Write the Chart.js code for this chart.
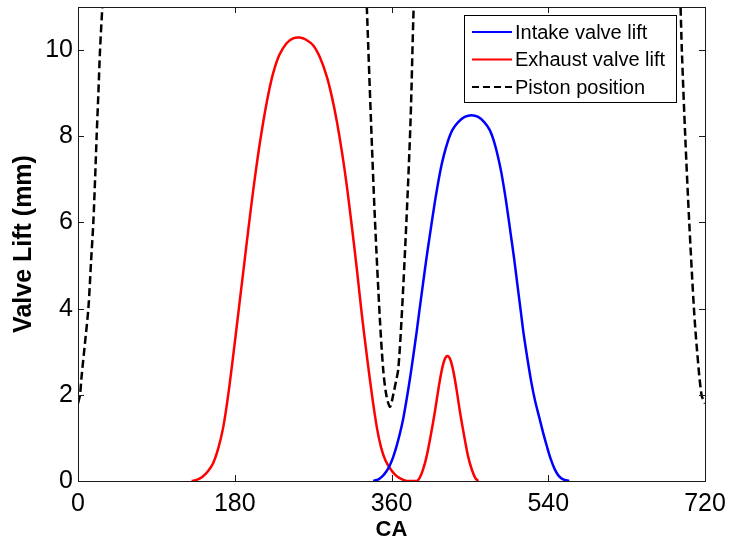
<!DOCTYPE html>
<html>
<head>
<meta charset="utf-8">
<script src="https://cdn.jsdelivr.net/npm/chart.js@4.4.0/dist/chart.umd.min.js"></script>
<style>
  body { margin: 0; background: #fff; }
  #wrap { width: 729px; height: 543px; }
</style>
</head>
<body>
<div id="wrap"><canvas id="chart"></canvas></div>
<script>
// crank angle (deg) vs lift (mm)
const intakeCA   = [339, 345, 350, 354, 358, 362, 366, 370, 373.5, 377, 381, 385, 388.8, 392, 396, 400, 404, 410, 415.6, 420, 425, 430, 436.6, 444, 452,
                    459.5, 466.5, 472.7, 477.4, 482, 486.2, 491.5, 497.1, 500.9, 504.6, 508.4, 511.5, 516, 520.5, 525, 530, 534, 538.5, 543, 547.5, 552, 557, 564];
const intakeLift = [0, 0.04, 0.12, 0.22, 0.36, 0.56, 0.82, 1.13, 1.45, 1.85, 2.35, 2.9, 3.45, 3.95, 4.55, 5.15, 5.7, 6.5, 7.15, 7.55, 7.9, 8.15, 8.33, 8.45, 8.49,
                    8.45, 8.33, 8.15, 7.9, 7.55, 7.15, 6.5, 5.7, 5.15, 4.55, 3.95, 3.45, 2.85, 2.3, 1.85, 1.45, 1.13, 0.8, 0.5, 0.27, 0.12, 0.04, 0];

const exhaustCA   = [130.5, 137, 143, 149, 155.3, 161, 166.8, 172.5, 178.3, 184, 189.8, 195.5, 201.3, 207, 212.7, 218.5, 224.2, 231, 239.5, 247, 254.4,
                     262, 270.4, 278, 285.8, 291.5, 297.2, 303, 308.7, 314.5, 320.2, 326, 331.6, 337, 343.1, 348, 353, 358.4, 364, 370, 377.5,
                     388.8, 392, 396, 400.2, 405, 409.9, 414, 417.5, 421, 424.3, 427.5, 431, 434.5, 438.5, 443.4, 448.1, 452.5, 456.5, 459.7];
const exhaustLift = [0, 0.03, 0.1, 0.22, 0.42, 0.75, 1.25, 2.0, 2.92, 3.88, 4.86, 5.82, 6.76, 7.6, 8.33, 8.97, 9.47, 9.88, 10.16, 10.27, 10.29,
                     10.24, 10.1, 9.82, 9.38, 8.92, 8.35, 7.65, 6.85, 5.9, 4.92, 3.85, 2.92, 2.08, 1.25, 0.78, 0.48, 0.29, 0.15, 0.06, 0,
                     0, 0.06, 0.25, 0.56, 1.05, 1.62, 2.15, 2.55, 2.82, 2.9, 2.82, 2.55, 2.15, 1.62, 1.05, 0.56, 0.25, 0.06, 0];

const pistonCA  = [0, 2.3, 4, 8, 11.9, 15, 17.6, 19.6, 21.4, 23.4, 25.3, 27.9, 30, 33, 180, 327, 330, 332.2, 336.4, 341, 346.7, 350.5, 354, 358.2, 362, 365, 367.7, 371.5, 377.2, 381.9, 385, 388, 392, 540, 685, 689, 691.9, 693.4, 697.3, 701.9, 707.3, 711, 716, 720];
const pistonPos = [1.8, 2.0, 2.4, 3.2, 4, 5.1, 6, 7, 8, 9, 10, 11, 11.9, 13.5, 60, 13.5, 11.9, 10.7, 8.38, 6.06, 3.74, 2.58, 2.0, 1.72, 2.0, 2.3, 2.58, 3.74, 6.06, 8.38, 10.7, 12.5, 14.5, 60, 14, 12.5, 11, 10, 8, 6, 4, 3.0, 2.0, 1.8];

const xTicks = [0, 180, 360, 540, 720];
const yTicks = [0, 2, 4, 6, 8, 10];

const FONT = 'Arial, "Liberation Sans", Helvetica, sans-serif';

function pts(xs, ys) {
  return xs.map((x, i) => ({ x: x, y: ys[i] }));
}

// matlab style box with inward ticks on all sides + legend inside the axes
const axesBox = {
  id: 'axesBox',
  afterDraw(chart) {
    const { ctx, chartArea: a, scales: { x, y } } = chart;
    const len = 6;
    ctx.save();
    ctx.strokeStyle = '#1a1a1a';
    ctx.lineWidth = 1;
    ctx.strokeRect(Math.round(a.left) + 0.5, Math.round(a.top) + 0.5,
                   Math.round(a.right - a.left), Math.round(a.bottom - a.top));
    ctx.beginPath();
    xTicks.forEach(v => {
      const px = Math.round(x.getPixelForValue(v)) + 0.5;
      ctx.moveTo(px, a.bottom); ctx.lineTo(px, a.bottom - len);
      ctx.moveTo(px, a.top); ctx.lineTo(px, a.top + len);
    });
    yTicks.forEach(v => {
      const py = Math.round(y.getPixelForValue(v)) + 0.5;
      ctx.moveTo(a.left, py); ctx.lineTo(a.left + len, py);
      ctx.moveTo(a.right, py); ctx.lineTo(a.right - len, py);
    });
    ctx.stroke();

    // legend
    const bx = 464, by = 15, bw = 212, bh = 87;
    ctx.fillStyle = '#fff';
    ctx.fillRect(bx, by, bw, bh);
    ctx.strokeStyle = '#000';
    ctx.strokeRect(bx + 0.5, by + 0.5, bw, bh);
    ctx.font = '20px ' + FONT;
    ctx.textBaseline = 'middle';
    ctx.fillStyle = '#000';
    chart.data.datasets.forEach((ds, i) => {
      const ry = 32 + i * 27.5;
      ctx.strokeStyle = ds.borderColor;
      ctx.lineWidth = 2;
      ctx.setLineDash(ds.borderDash ? [7, 4] : []);
      ctx.beginPath();
      ctx.moveTo(472, ry); ctx.lineTo(512, ry);
      ctx.stroke();
      ctx.setLineDash([]);
      ctx.fillText(ds.label, 515, ry + 1);
    });
    ctx.restore();
  }
};

const ctx = document.getElementById('chart').getContext('2d');
new Chart(ctx, {
  type: 'line',
  data: {
    datasets: [
      {
        label: 'Intake valve lift',
        data: pts(intakeCA, intakeLift),
        borderColor: '#0000ff',
        borderWidth: 2.5,
        clip: 0,
      },
      {
        label: 'Exhaust valve lift',
        data: pts(exhaustCA, exhaustLift),
        borderColor: '#ff0000',
        borderWidth: 2.5,
        clip: 0,
      },
      {
        label: 'Piston position',
        data: pts(pistonCA, pistonPos),
        borderColor: '#000000',
        borderWidth: 2.5,
        borderDash: [8, 4],
        clip: 0,
      },
    ],
  },
  options: {
    responsive: true,
    maintainAspectRatio: false,
    animation: false,
    elements: {
      point: { radius: 0 },
      line: { tension: 0.3, fill: false },
    },
    layout: { padding: { top: 7, right: 24, left: 0, bottom: 0 } },
    plugins: {
      legend: { display: false },
      tooltip: { enabled: false },
    },
    scales: {
      x: {
        type: 'linear',
        min: 0,
        max: 720,
        afterBuildTicks: s => { s.ticks = xTicks.map(v => ({ value: v })); },
        afterFit: s => { s.height = 62; s.paddingLeft = 0; s.paddingRight = 0; },
        grid: { display: false, drawTicks: false },
        border: { display: false },
        ticks: { autoSkip: false, maxRotation: 0, padding: 8, color: '#000', font: { family: FONT, size: 25 } },
        title: { display: true, text: 'CA', color: '#000', padding: 0, font: { family: FONT, size: 22, weight: 'bold' } },
      },
      y: {
        min: 0,
        max: 11,
        afterBuildTicks: s => { s.ticks = yTicks.map(v => ({ value: v })); },
        afterFit: s => { s.width = 78; s.paddingTop = 0; s.paddingBottom = 0; },
        grid: { display: false, drawTicks: false },
        border: { display: false },
        ticks: { autoSkip: false, padding: 5, color: '#000', font: { family: FONT, size: 25 } },
        title: { display: true, text: 'Valve Lift (mm)', color: '#000', padding: { top: 9, bottom: 0 }, font: { family: FONT, size: 25, weight: 'bold' } },
      },
    },
  },
  plugins: [axesBox],
});
</script>
</body>
</html>
